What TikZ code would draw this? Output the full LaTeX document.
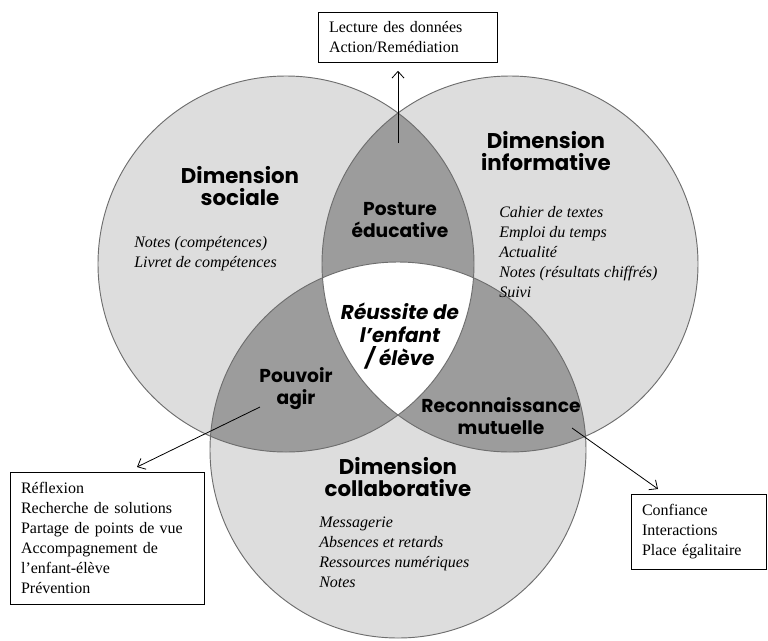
\documentclass[tikz,border=0pt]{standalone}
\usepackage{fontspec}
\setmainfont{Liberation Serif}
\newfontfamily\futura{Poppins}
\usetikzlibrary{arrows.meta}
\definecolor{lightg}{HTML}{DDDDDD}
\definecolor{darkg}{HTML}{9C9C9C}
\definecolor{edgeg}{HTML}{6E6E6E}
\begin{document}
\begin{tikzpicture}[x=0.75pt,y=-0.75pt,
  title/.style={font=\futura\bfseries\fontsize{16}{17}\selectfont, align=center, inner sep=0pt},
  region/.style={font=\futura\bfseries\fontsize{14}{16.5}\selectfont, align=center, inner sep=0pt},
  centre/.style={font=\futura\bfseries\itshape\fontsize{15}{17}\selectfont, align=center, inner sep=0pt},
  listtxt/.style={font=\itshape\fontsize{12}{15}\selectfont, align=left, inner sep=0pt, anchor=west},
  infobox/.style={draw=black, line width=0.6pt, fill=white, anchor=north west, align=left, inner xsep=8pt, inner ysep=0pt, font=\fontsize{12}{15}\selectfont},
  pointer/.style={-{Straight Barb[length=5pt,width=9pt]}, line width=0.6pt, black}]
\useasboundingbox (0,0) rectangle (768,640);
\def\rad{141pt}
\coordinate (cL) at (286,264);
\coordinate (cR) at (510,264);
\coordinate (cB) at (398,450);
% single regions
\fill[lightg] (cL) circle[radius=\rad];
\fill[lightg] (cR) circle[radius=\rad];
\fill[lightg] (cB) circle[radius=\rad];
% pairwise intersections
\begin{scope}
  \clip (cL) circle[radius=\rad];
  \fill[darkg] (cR) circle[radius=\rad];
  \fill[darkg] (cB) circle[radius=\rad];
\end{scope}
\begin{scope}
  \clip (cR) circle[radius=\rad];
  \fill[darkg] (cB) circle[radius=\rad];
\end{scope}
% triple intersection
\begin{scope}
  \clip (cL) circle[radius=\rad];
  \clip (cR) circle[radius=\rad];
  \fill[white] (cB) circle[radius=\rad];
\end{scope}
% outlines
\draw[edgeg, line width=0.7pt] (cL) circle[radius=\rad];
\draw[edgeg, line width=0.7pt] (cR) circle[radius=\rad];
\draw[edgeg, line width=0.7pt] (cB) circle[radius=\rad];

% texts
\node[title] (dsoc) at (240,186) {Dimension\\sociale};
\node[listtxt] (lsoc) at (134,253.5) {Notes (compétences)\\Livret de compétences};
\node[title] (dinf) at (546,151) {Dimension\\informative};
\node[listtxt] (linf) at (499,252.5) {Cahier de textes\\Emploi du temps\\Actualité\\Notes (résultats chiffrés)\\Suivi};
\node[region] (post) at (400,220) {Posture\\éducative};
\node[centre] (reus) at (400,336) {Réussite de\\l’enfant\\/ élève};
\node[region] (pouv) at (296,389) {Pouvoir\\agir};
\node[region] (reco) at (501,416) {Reconnaissance\\mutuelle};
\node[title] (dcol) at (398,477) {Dimension\\collaborative};
\node[listtxt] (lcol) at (319,552) {Messagerie\\Absences et retards\\Ressources numériques\\Notes};

% boxes
\node[infobox, text width=118pt, minimum height=37.5pt] (boxTop) at (318,12) {Lecture des données\\Action/Remédiation};
\node[infobox, text width=129.5pt, minimum height=99pt] (boxLeft) at (10,472) {Réflexion\\Recherche de solutions\\Partage de points de vue\\Accompagnement de\\l’enfant-élève\\Prévention};
\node[infobox, text width=85pt, minimum height=56.25pt] (boxRight) at (631,494) {Confiance\\Interactions\\Place égalitaire};

% connectors
\coordinate (sPE) at (398,143);
\coordinate (sPA) at (260,407);
\coordinate (tPA) at (137,467);
\coordinate (sRM) at (572,428);
\coordinate (tRM) at (658,489);
\draw[pointer, shorten >=6pt] (sPE) -- (boxTop.south -| sPE);
\draw[pointer] (sPA) -- (tPA);
\draw[pointer] (sRM) -- (tRM);
\end{tikzpicture}
\end{document}
